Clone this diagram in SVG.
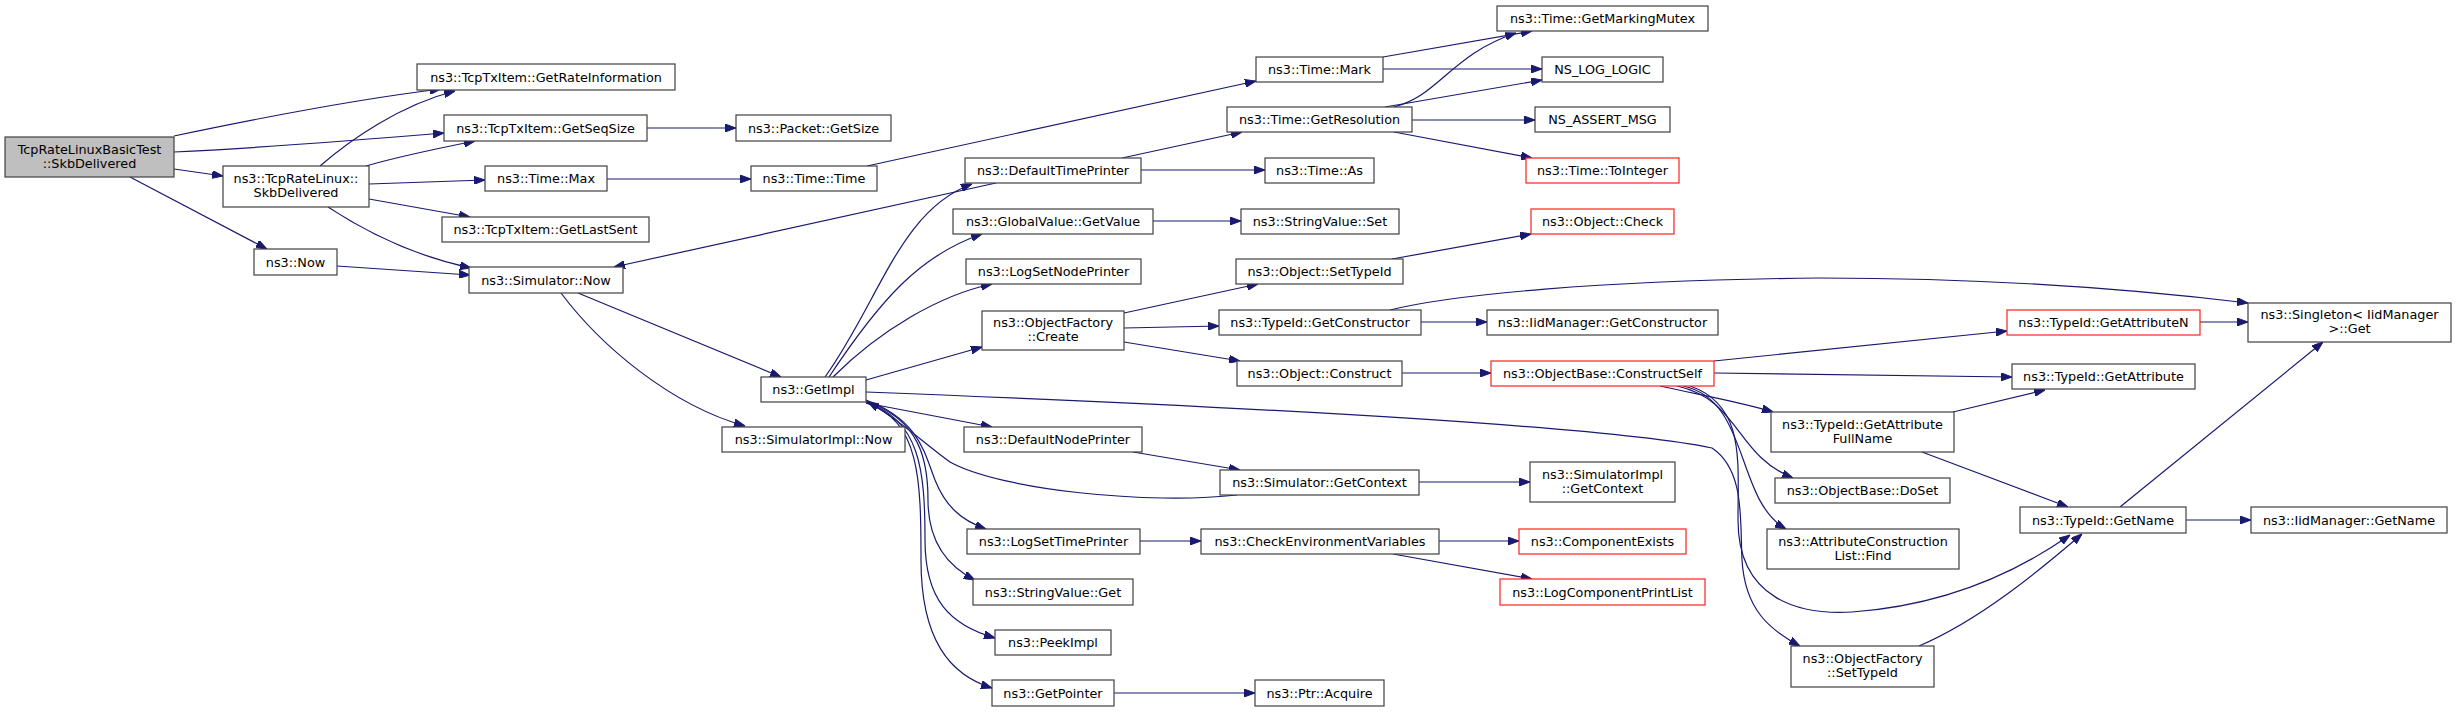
<svg xmlns="http://www.w3.org/2000/svg" width="2456" height="712" viewBox="0 0 2456 712">
<style>
.n rect{fill:#ffffff;stroke:#404040;stroke-width:1.2}
.r rect{fill:#ffffff;stroke:#ff2020;stroke-width:1.2}
.g rect{fill:#bfbfbf;stroke:#404040;stroke-width:1.2}
text{font-family:"DejaVu Sans",sans-serif;font-size:12.8px;fill:#000;text-anchor:middle}
#edges path{fill:none;stroke:#191970;stroke-width:1.2;marker-end:url(#a)}
</style>
<defs>
<marker id="a" markerWidth="11" markerHeight="8" refX="11" refY="4" orient="auto" markerUnits="userSpaceOnUse"><path d="M0,0 L11,4 L0,8 z" fill="#191970" stroke="#191970" stroke-width="1"/></marker>
</defs>
<rect width="2456" height="712" fill="#ffffff"/>
<g id="edges">
<path d="M174,136 C250,120 350,100 441,89"/>
<path d="M174,152 C260,148 360,140 444,133"/>
<path d="M174,169 L223,176"/>
<path d="M130,177 L267,249"/>
<path d="M320,166 C350,140 400,105 455,91"/>
<path d="M366,166 C400,156 440,148 475,141"/>
<path d="M369,184 L485,180"/>
<path d="M369,199 L470,217"/>
<path d="M328,207 C360,228 410,255 471,268"/>
<path d="M337,266 L470,275"/>
<path d="M647,128 L736,128"/>
<path d="M607,179 L751,179"/>
<path d="M867,166 L1256,81"/>
<path d="M996,183 L614,267"/>
<path d="M578,293 L781,377"/>
<path d="M561,293 C600,345 670,405 745,426"/>
<path d="M825,377 C880,300 900,210 972,184"/>
<path d="M829,377 C880,300 920,255 982,234"/>
<path d="M833,377 C880,330 940,295 992,284"/>
<path d="M866,380 L982,347"/>
<path d="M866,403 L992,427"/>
<path d="M866,400 C920,420 925,455 935,480 C945,505 960,520 986,529"/>
<path d="M866,401 C920,420 928,460 928,500 C928,540 945,565 975,580"/>
<path d="M866,402 C920,420 925,470 925,540 C925,600 950,625 995,638"/>
<path d="M866,403 C920,420 921,480 921,560 C921,640 950,675 992,688"/>
<path d="M866,392 C1200,405 1600,425 1712,448 C1745,470 1740,520 1742,560 C1745,610 1770,630 1800,646"/>
<path d="M1237,495 C1150,505 1000,490 950,462 C920,440 900,420 868,402"/>
<path d="M1122,158 L1242,132"/>
<path d="M1141,170 L1265,170"/>
<path d="M1153,221 L1241,221"/>
<path d="M1124,313 L1258,284"/>
<path d="M1124,328 L1219,326"/>
<path d="M1124,342 L1240,361"/>
<path d="M1133,452 L1240,470"/>
<path d="M1140,541 L1201,541"/>
<path d="M1114,693 L1255,693"/>
<path d="M1383,57 L1532,31"/>
<path d="M1383,69 L1542,69"/>
<path d="M1394,107 C1440,95 1450,55 1516,33"/>
<path d="M1385,107 L1542,80"/>
<path d="M1412,120 L1535,120"/>
<path d="M1394,132 L1532,158"/>
<path d="M1392,259 L1531,234"/>
<path d="M1421,322 L1487,322"/>
<path d="M1390,310 C1450,295 1600,280 1820,278 C1950,278 2100,285 2248,303"/>
<path d="M1402,373 L1491,373"/>
<path d="M1419,482 L1530,482"/>
<path d="M1439,541 L1519,541"/>
<path d="M1393,554 L1532,579"/>
<path d="M1714,361 C1800,352 1900,342 2007,331"/>
<path d="M1714,373 L2012,377"/>
<path d="M1660,386 C1700,395 1740,402 1773,412"/>
<path d="M1677,386 C1740,400 1735,455 1793,478"/>
<path d="M1683,386 C1750,400 1735,500 1786,529"/>
<path d="M1690,386 C1745,405 1738,460 1738,520 C1738,600 1800,615 1852,612 C1950,605 2020,570 2070,535"/>
<path d="M1953,412 L2045,390"/>
<path d="M1922,452 L2068,507"/>
<path d="M1919,646 C1980,620 2040,570 2082,534"/>
<path d="M2200,322 L2248,322"/>
<path d="M2120,507 L2323,342"/>
<path d="M2186,520 L2251,520"/>
</g>
<g id="root" class="g"><rect x="5" y="137" width="169" height="40"/><text x="89.5" y="153.5">TcpRateLinuxBasicTest</text><text x="89.5" y="167.5">::SkbDelivered</text></g>
<g id="trl" class="n"><rect x="223" y="166" width="146" height="41"/><text x="296" y="182.5">ns3::TcpRateLinux::</text><text x="296" y="196.5">SkbDelivered</text></g>
<g id="now" class="n"><rect x="254" y="249" width="83" height="26"/><text x="295.5" y="266.5">ns3::Now</text></g>
<g id="gri" class="n"><rect x="417" y="64" width="258" height="26"/><text x="546" y="81.5">ns3::TcpTxItem::GetRateInformation</text></g>
<g id="gss" class="n"><rect x="444" y="115" width="203" height="26"/><text x="545.5" y="132.5">ns3::TcpTxItem::GetSeqSize</text></g>
<g id="tmax" class="n"><rect x="485" y="166" width="122" height="25"/><text x="546" y="183">ns3::Time::Max</text></g>
<g id="gls" class="n"><rect x="442" y="217" width="207" height="25"/><text x="545.5" y="234">ns3::TcpTxItem::GetLastSent</text></g>
<g id="snow" class="n"><rect x="469" y="267" width="154" height="26"/><text x="546" y="284.5">ns3::Simulator::Now</text></g>
<g id="pgs" class="n"><rect x="736" y="115" width="155" height="26"/><text x="813.5" y="132.5">ns3::Packet::GetSize</text></g>
<g id="ttime" class="n"><rect x="751" y="166" width="126" height="25"/><text x="814" y="183">ns3::Time::Time</text></g>
<g id="gimpl" class="n"><rect x="761" y="377" width="105" height="25"/><text x="813.5" y="394">ns3::GetImpl</text></g>
<g id="sinow" class="n"><rect x="722" y="427" width="183" height="25"/><text x="813.5" y="444">ns3::SimulatorImpl::Now</text></g>
<g id="dtp" class="n"><rect x="965" y="158" width="176" height="25"/><text x="1053" y="175">ns3::DefaultTimePrinter</text></g>
<g id="ggv" class="n"><rect x="953" y="209" width="200" height="25"/><text x="1053" y="226">ns3::GlobalValue::GetValue</text></g>
<g id="lsnp" class="n"><rect x="966" y="259" width="175" height="25"/><text x="1053.5" y="276">ns3::LogSetNodePrinter</text></g>
<g id="ofc" class="n"><rect x="982" y="311" width="142" height="39"/><text x="1053" y="327">ns3::ObjectFactory</text><text x="1053" y="341">::Create</text></g>
<g id="dnp" class="n"><rect x="964" y="427" width="178" height="25"/><text x="1053" y="444">ns3::DefaultNodePrinter</text></g>
<g id="lstp" class="n"><rect x="967" y="529" width="173" height="25"/><text x="1053.5" y="546">ns3::LogSetTimePrinter</text></g>
<g id="svget" class="n"><rect x="973" y="579" width="160" height="26"/><text x="1053" y="596.5">ns3::StringValue::Get</text></g>
<g id="peek" class="n"><rect x="995" y="630" width="116" height="25"/><text x="1053" y="647">ns3::PeekImpl</text></g>
<g id="gptr" class="n"><rect x="992" y="680" width="122" height="26"/><text x="1053" y="697.5">ns3::GetPointer</text></g>
<g id="mark" class="n"><rect x="1256" y="57" width="127" height="25"/><text x="1319.5" y="74">ns3::Time::Mark</text></g>
<g id="gres" class="n"><rect x="1227" y="107" width="185" height="25"/><text x="1319.5" y="124">ns3::Time::GetResolution</text></g>
<g id="tas" class="n"><rect x="1265" y="158" width="109" height="25"/><text x="1319.5" y="175">ns3::Time::As</text></g>
<g id="svset" class="n"><rect x="1241" y="209" width="158" height="25"/><text x="1320" y="226">ns3::StringValue::Set</text></g>
<g id="ostid" class="n"><rect x="1236" y="259" width="167" height="25"/><text x="1319.5" y="276">ns3::Object::SetTypeId</text></g>
<g id="tgc" class="n"><rect x="1219" y="310" width="202" height="25"/><text x="1320" y="327">ns3::TypeId::GetConstructor</text></g>
<g id="ocon" class="n"><rect x="1237" y="361" width="165" height="25"/><text x="1319.5" y="378">ns3::Object::Construct</text></g>
<g id="sgc" class="n"><rect x="1220" y="470" width="199" height="25"/><text x="1319.5" y="487">ns3::Simulator::GetContext</text></g>
<g id="cev" class="n"><rect x="1201" y="529" width="238" height="25"/><text x="1320" y="546">ns3::CheckEnvironmentVariables</text></g>
<g id="pacq" class="n"><rect x="1255" y="680" width="129" height="26"/><text x="1319.5" y="697.5">ns3::Ptr::Acquire</text></g>
<g id="gmm" class="n"><rect x="1497" y="6" width="211" height="25"/><text x="1602.5" y="23">ns3::Time::GetMarkingMutex</text></g>
<g id="nll" class="n"><rect x="1542" y="57" width="121" height="25"/><text x="1602.5" y="74">NS_LOG_LOGIC</text></g>
<g id="nam" class="n"><rect x="1535" y="107" width="135" height="25"/><text x="1602.5" y="124">NS_ASSERT_MSG</text></g>
<g id="toi" class="r"><rect x="1526" y="158" width="153" height="25"/><text x="1602.5" y="175">ns3::Time::ToInteger</text></g>
<g id="ochk" class="r"><rect x="1531" y="209" width="143" height="25"/><text x="1602.5" y="226">ns3::Object::Check</text></g>
<g id="igc" class="n"><rect x="1487" y="310" width="231" height="25"/><text x="1602.5" y="327">ns3::IidManager::GetConstructor</text></g>
<g id="cself" class="r"><rect x="1491" y="361" width="223" height="25"/><text x="1602.5" y="378">ns3::ObjectBase::ConstructSelf</text></g>
<g id="sigc" class="n"><rect x="1530" y="462" width="145" height="40"/><text x="1602.5" y="478.5">ns3::SimulatorImpl</text><text x="1602.5" y="492.5">::GetContext</text></g>
<g id="cex" class="r"><rect x="1519" y="529" width="167" height="25"/><text x="1602.5" y="546">ns3::ComponentExists</text></g>
<g id="lcpl" class="r"><rect x="1500" y="579" width="205" height="26"/><text x="1602.5" y="596.5">ns3::LogComponentPrintList</text></g>
<g id="gafn" class="n"><rect x="1771" y="412" width="183" height="40"/><text x="1862.5" y="428.5">ns3::TypeId::GetAttribute</text><text x="1862.5" y="442.5">FullName</text></g>
<g id="doset" class="n"><rect x="1775" y="478" width="175" height="25"/><text x="1862.5" y="495">ns3::ObjectBase::DoSet</text></g>
<g id="acl" class="n"><rect x="1767" y="529" width="192" height="40"/><text x="1863" y="545.5">ns3::AttributeConstruction</text><text x="1863" y="559.5">List::Find</text></g>
<g id="oftid" class="n"><rect x="1791" y="646" width="143" height="41"/><text x="1862.5" y="662.5">ns3::ObjectFactory</text><text x="1862.5" y="676.5">::SetTypeId</text></g>
<g id="gan" class="r"><rect x="2007" y="310" width="193" height="25"/><text x="2103.5" y="327">ns3::TypeId::GetAttributeN</text></g>
<g id="gattr" class="n"><rect x="2012" y="364" width="183" height="25"/><text x="2103.5" y="381">ns3::TypeId::GetAttribute</text></g>
<g id="gname" class="n"><rect x="2020" y="507" width="166" height="26"/><text x="2103" y="524.5">ns3::TypeId::GetName</text></g>
<g id="sing" class="n"><rect x="2248" y="303" width="203" height="39"/><text x="2349.5" y="319">ns3::Singleton&lt; IidManager</text><text x="2349.5" y="333">&gt;::Get</text></g>
<g id="iign" class="n"><rect x="2251" y="507" width="196" height="26"/><text x="2349" y="524.5">ns3::IidManager::GetName</text></g>
</svg>
